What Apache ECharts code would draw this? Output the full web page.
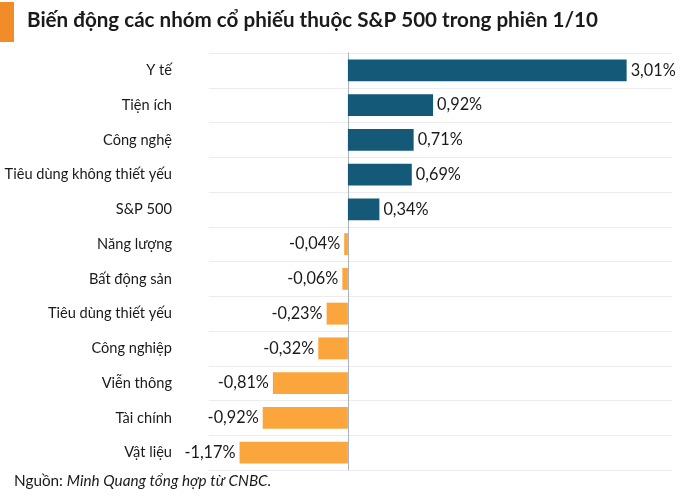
<!DOCTYPE html>
<html><head><meta charset="utf-8">
<script src="https://cdn.jsdelivr.net/npm/echarts@6/dist/echarts.min.js"></script>
<style>html,body{margin:0;padding:0;background:#fff}#c{width:700px;height:499px}</style>
</head><body><div id="c"></div>
<script>
const categories = ["Y tế","Tiện ích","Công nghệ","Tiêu dùng không thiết yếu","S&P 500","Năng lượng","Bất động sản","Tiêu dùng thiết yếu","Công nghiệp","Viễn thông","Tài chính","Vật liệu"];
const values = [3.01,0.92,0.71,0.69,0.34,-0.04,-0.06,-0.23,-0.32,-0.81,-0.92,-1.17];
const titleText = "Biến động các nhóm cổ phiếu thuộc S&P 500 trong phiên 1/10";
const sourceLabel = "Nguồn: ";
const sourceText = "Minh Quang tổng hợp từ CNBC.";

const chart = echarts.init(document.getElementById('c'), null, {renderer:'canvas'});
const fmt = v => v.toFixed(2).replace('.', ',') + '%';
chart.setOption({
  animation:false,
  textStyle:{fontFamily:'Lato'},
  graphic:[
    {type:'rect', shape:{x:0,y:2,width:14,height:40}, style:{fill:'#f28c28'}},
    {type:'text', left:27, top:10, style:{text:titleText, font:'bold 20.6px Lato', fill:'#1a1a1a'}},
    {type:'text', left:14, top:474, style:{
      text:'{a|'+sourceLabel+'}{b|'+sourceText+'}',
      rich:{a:{fontFamily:'Lato',fontSize:15.3,fill:'#1a1a1a'},b:{fontFamily:'Lato',fontSize:15.3,fontStyle:'italic',fill:'#1a1a1a'}}
    }}
  ],
  grid:{left:209,right:28,top:53,bottom:29,containLabel:false},
  xAxis:{type:'value',min:-1.5,max:3.5,show:false,splitLine:{show:false}},
  yAxis:{type:'category',data:categories,inverse:true,
    axisLine:{show:true,onZero:true,lineStyle:{color:'#a9b2bf',width:1}},
    axisTick:{show:false},
    axisLabel:{margin:37,color:'#1a1a1a',fontSize:14.6,fontFamily:'Lato'},
    splitLine:{show:true,lineStyle:{color:'#ececec',width:1}}
  },
  series:[{type:'bar',barWidth:'63%',
    data:values.map(v=>({value:v,
      itemStyle:{color: v>=0 ? '#145a78' : '#fba63c'},
      label:{show:true,position: v>=0?'right':'left',distance:4,formatter:p=>fmt(p.value),color:'#1a1a1a',fontSize:16.3,fontFamily:'Lato'}
    }))
  }]
});
</script></body></html>
